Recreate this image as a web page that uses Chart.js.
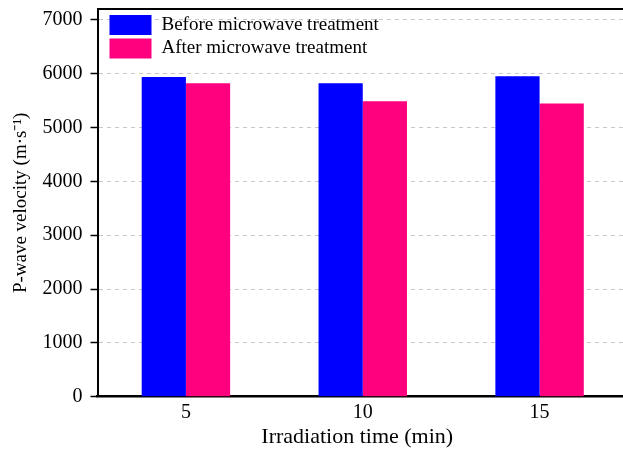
<!DOCTYPE html>
<html>
<head>
<meta charset="utf-8">
<script src="https://cdn.jsdelivr.net/npm/chart.js@4/dist/chart.umd.min.js"></script>
<style>
  html, body { margin: 0; padding: 0; background: #fff; overflow: hidden; }
  #wrap { width: 623px; height: 450px; overflow: hidden; }
  canvas { display: block; }
</style>
</head>
<body>
<div id="wrap"><canvas id="myChart" width="628" height="450"></canvas></div>
<script>
const categories = ["5", "10", "15"];
const beforeValues = [5935, 5823, 5950];
const afterValues = [5823, 5488, 5445];
const seriesNames = ["Before microwave treatment", "After microwave treatment"];
const yTicks = [0, 1000, 2000, 3000, 4000, 5000, 6000, 7000];

const serif = "'Liberation Serif', 'Times New Roman', serif";

// legend drawn inside the plot, top-left (plus the top frame line)
const innerLegend = {
    id: "innerLegend",
    afterDraw(chart) {
        const ctx = chart.ctx;
        const area = chart.chartArea;
        ctx.save();
        ctx.strokeStyle = "#000";
        ctx.lineWidth = 2;
        ctx.beginPath();
        ctx.moveTo(area.left, area.top);
        ctx.lineTo(area.right, area.top);
        ctx.stroke();

        ctx.font = "19px " + serif;
        ctx.textBaseline = "middle";
        chart.data.datasets.forEach((ds, i) => {
            const x = area.left + 12;
            const y = area.top + 6 + i * 23.5;
            ctx.fillStyle = ds.backgroundColor;
            ctx.fillRect(x, y, 42, 20);
            ctx.fillStyle = "#000";
            ctx.fillText(ds.label, x + 52, y + 10);
        });
        ctx.restore();
    }
};

const data = {
    labels: categories,
    datasets: [{
        label: seriesNames[0],
        data: beforeValues,
        backgroundColor: "#0000FF",
        borderWidth: 0,
    }, {
        label: seriesNames[1],
        data: afterValues,
        backgroundColor: "#FF007F",
        borderWidth: 0,
    }],
};

const config = {
    type: "bar",
    data: data,
    plugins: [innerLegend],
    options: {
        responsive: false,
        animation: false,
        categoryPercentage: 0.5,
        barPercentage: 1.0,
        layout: { padding: { top: 9, right: 0, left: 0, bottom: 0 } },
        scales: {
            x: {
                grid: { display: false, drawTicks: false },
                border: { color: "#000", width: 2.5 },
                ticks: { color: "#000", font: { family: serif, size: 20 }, padding: 4 },
                title: {
                    display: true,
                    text: "Irradiation time (min)\u2002",
                    color: "#000",
                    font: { family: serif, size: 22 },
                    padding: { top: 0, bottom: 0 }
                },
                afterFit(scale) {
                    scale.height = 53.3;
                    scale.paddingLeft = 0;
                    scale.paddingRight = 0;
                }
            },
            y: {
                min: 0,
                max: 7200,
                afterBuildTicks(axis) {
                    axis.ticks = yTicks.map(v => ({ value: v }));
                },
                grid: {
                    color: "#c8c8c8",
                    tickColor: "#000",
                    tickBorderDash: [],
                    tickLength: 7,
                    tickWidth: 1.5,
                },
                border: { color: "#000", width: 2, dash: [4, 4] },
                ticks: {
                    color: "#000",
                    font: { family: serif, size: 20 },
                    padding: 8,
                    callback: v => String(v)
                },
                title: {
                    display: true,
                    text: "P-wave velocity (m·s⁻¹)",
                    color: "#000",
                    font: { family: serif, size: 19 },
                    padding: { top: 10, bottom: 0 }
                },
                afterFit(scale) {
                    scale.width = 97.5;
                    scale.paddingTop = 0;
                    scale.paddingBottom = 0;
                }
            }
        },
        plugins: {
            legend: { display: false },
            tooltip: { enabled: false }
        }
    }
};

const myChart = new Chart(document.getElementById("myChart"), config);
</script>
</body>
</html>
